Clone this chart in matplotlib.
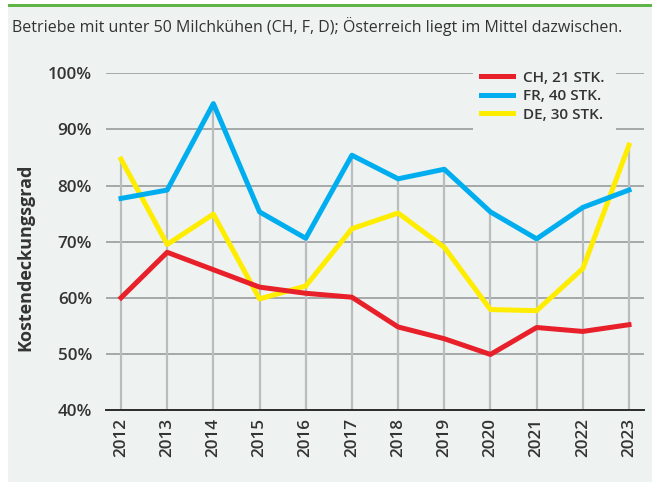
import matplotlib
matplotlib.use("Agg")
import matplotlib.pyplot as plt
from matplotlib.patches import Rectangle

plt.rcParams['font.family'] = ['Open Sans', 'DejaVu Sans']

years = [2012, 2013, 2014, 2015, 2016, 2017, 2018, 2019, 2020, 2021, 2022, 2023]
ch = [60.0, 68.1, 65.0, 61.9, 60.8, 60.1, 54.8, 52.7, 49.9, 54.7, 54.0, 55.2]
fr = [77.7, 79.2, 94.6, 75.3, 70.6, 85.4, 81.2, 82.9, 75.3, 70.5, 76.1, 79.2]
de = [84.7, 69.5, 74.9, 59.8, 62.1, 72.3, 75.1, 69.0, 57.9, 57.7, 65.2, 87.2]
series_names = ['CH, 21 STK.', 'FR, 40 STK.', 'DE, 30 STK.']
yticks = [40, 50, 60, 70, 80, 90, 100]
title = 'Betriebe mit unter 50 Milchkühen (CH, F, D); Österreich liegt im Mittel dazwischen.'

W, H = 652, 482
bg = '#eef2f1'
txt = '#333333'

fig = plt.figure(figsize=(W / 100, H / 100), dpi=100, facecolor='white')
fig.patches.append(Rectangle((8 / W, 0), 1 - 8 / W, 1 - 7 / H, transform=fig.transFigure,
                             facecolor=bg, edgecolor='none', zorder=-10))
fig.patches.append(Rectangle((8 / W, 1 - 7 / H), 1 - 8 / W, 3 / H, transform=fig.transFigure,
                             facecolor='#5fb548', edgecolor='none', zorder=-10))

ax = fig.add_axes([106 / W, 72 / H, 538 / W, 336.7 / H])
ax.set_facecolor('none')
ax.set_xlim(2011.675, 2023.325)
ax.set_ylim(40, 100)

for y in yticks[1:]:
    ax.axhline(y, color='#a0a3a3', lw=1.3, zorder=1)
tops = [max(a, b, c) for a, b, c in zip(ch, fr, de)]
ax.vlines(years, 40, tops, color='#b9bdbd', lw=1.6, zorder=1)

ax.plot(years, ch, color='#e8202a', lw=3.6, label=series_names[0], zorder=4)
ax.plot(years, fr, color='#00aeef', lw=3.6, label=series_names[1], zorder=3)
ax.plot(years, de, color='#ffed00', lw=3.6, label=series_names[2], zorder=2)

for s in ['top', 'right', 'left']:
    ax.spines[s].set_visible(False)
ax.spines['bottom'].set_color('#2a2a2a')
ax.spines['bottom'].set_linewidth(1.4)

ax.set_yticks(yticks)
ax.set_yticklabels([f'{v}%' for v in yticks])
ax.set_xticks(years)
ax.set_xticklabels([str(y) for y in years], rotation=90)
ax.tick_params(axis='y', length=0, pad=10, labelsize=12.3, labelcolor=txt)
ax.tick_params(axis='x', length=0, pad=6, labelsize=12.3, labelcolor=txt)
for lab in ax.get_xticklabels() + ax.get_yticklabels():
    lab.set_fontweight('semibold')

# legend area masks the gridlines behind it
ax.add_patch(Rectangle((473 / W, 1 - 136 / H), 143 / W, 74 / H, transform=fig.transFigure,
                       facecolor=bg, edgecolor='none', zorder=6, clip_on=False))
leg = ax.legend(loc='upper left', bbox_to_anchor=(476 / W, 1 - 66 / H),
                bbox_transform=fig.transFigure, frameon=False,
                handlelength=2.1, handletextpad=0.7, labelspacing=0.3,
                borderpad=0.3, borderaxespad=0, prop={'size': 11, 'weight': 'semibold'})
leg.set_zorder(10)
for t in leg.get_texts():
    t.set_color(txt)

fig.text(25 / W, 1 - 257 / H, 'Kostendeckungsgrad', rotation=90, ha='center', va='center',
         fontsize=13, fontweight='bold', color=txt)
fig.text(12 / W, 1 - 27 / H, title, ha='left', va='center', fontsize=11.5, color=txt)

fig.savefig('out.png', dpi=100, facecolor=fig.get_facecolor())
